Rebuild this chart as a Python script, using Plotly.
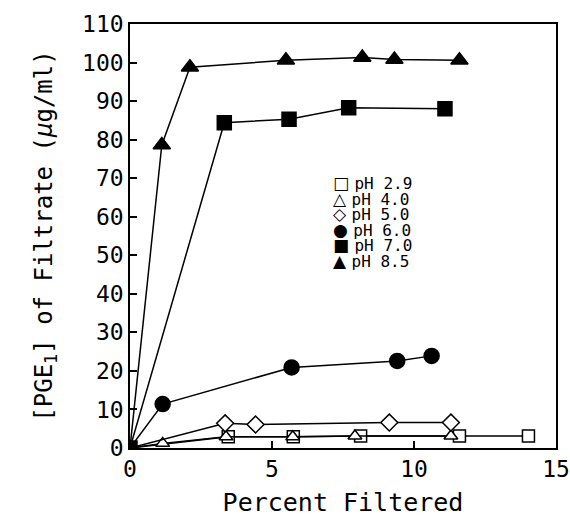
import plotly.graph_objects as go

# Data
labels = ["pH 2.9", "pH 4.0", "pH 5.0", "pH 6.0", "pH 7.0", "pH 8.5"]

x_ph29 = [0, 3.46, 5.75, 8.12, 11.6, 14.03]
y_ph29 = [0, 2.9, 2.9, 3.1, 3.1, 3.1]

x_ph40 = [0, 1.15, 3.38, 5.73, 7.92, 11.3]
y_ph40 = [0, 1.2, 2.9, 2.9, 3.1, 3.1]

x_ph50 = [0, 3.35, 4.42, 9.13, 11.3]
y_ph50 = [0, 6.4, 6.1, 6.6, 6.6]

x_ph60 = [0, 1.15, 5.69, 9.41, 10.62]
y_ph60 = [0, 11.4, 20.9, 22.6, 23.9]

x_ph70 = [0, 3.32, 5.6, 7.7, 11.09]
y_ph70 = [0, 84.4, 85.3, 88.3, 88.0]

x_ph85 = [0, 1.12, 2.11, 5.49, 8.18, 9.31, 11.6]
y_ph85 = [0, 78.6, 98.8, 100.6, 101.3, 100.8, 100.6]

x_ticks = [0, 5, 10, 15]
y_ticks = list(range(0, 111, 10))

FONT = "DejaVu Sans Mono"
BLACK = "rgb(0,0,0)"

series = [
    (x_ph29, y_ph29, "square", "white", 12, 0),
    (x_ph40, y_ph40, "triangle-up", "white", 12, 0),
    (x_ph50, y_ph50, "diamond", "white", 13, 0),
    (x_ph60, y_ph60, "circle", BLACK, 15, 0),
    (x_ph70, y_ph70, "square", BLACK, 14, 14),
    (x_ph85, y_ph85, "triangle-up", BLACK, 15, 0),
]
legend_glyphs = ["□", "△", "◇", "●", "■", "▲"]

W, H = 570, 526
L, T = 130, 24
PW, PH = 426, 424

fig = go.Figure()
for (xs, ys, sym, fill, size, origin_size), lab in zip(series, labels):
    sizes = [origin_size] + [size] * (len(xs) - 1)
    fig.add_trace(go.Scatter(
        x=xs, y=ys, mode="lines+markers", name=lab, showlegend=False,
        line=dict(color=BLACK, width=1.5),
        marker=dict(symbol=sym, size=sizes, color=fill, opacity=1,
                    line=dict(color=BLACK, width=1.5)),
        opacity=1, cliponaxis=True,
    ))

# legend built from annotations (glyph + label in one text per row)
row_h = 15.5 / PH
y0 = (448 - 183) / PH
for i, (g, lab) in enumerate(zip(legend_glyphs, labels)):
    fig.add_annotation(
        xref="paper", yref="paper", x=(332 - L) / PW, y=y0 - i * row_h,
        xanchor="left", yanchor="middle", showarrow=False, borderpad=0,
        text='<span style="font-family:DejaVu Sans;font-size:17px">' + g
             + '</span><span style="font-size:9px"> </span>' + lab,
        font=dict(family=FONT, size=16, color=BLACK),
    )

fig.update_layout(
    width=W, height=H,
    margin=dict(l=L, r=W - L - PW, t=T, b=H - T - PH, autoexpand=False),
    paper_bgcolor="white", plot_bgcolor="white",
    font=dict(family=FONT, color=BLACK),
    showlegend=False,
)
fig.update_xaxes(
    range=[0, 15], tickvals=x_ticks, ticks="inside", ticklen=7, tickwidth=1.5,
    tickcolor=BLACK, automargin=False,
    showline=True, linecolor=BLACK, linewidth=1.5, mirror=True,
    showgrid=False, zeroline=False,
    tickfont=dict(family=FONT, size=23),
    title=dict(text="Percent Filtered", font=dict(family=FONT, size=25), standoff=12),
)
fig.update_yaxes(
    range=[0, 110], tickvals=y_ticks, ticks="inside", ticklen=7, tickwidth=1.5,
    tickcolor=BLACK, automargin=False,
    showline=True, linecolor=BLACK, linewidth=1.5, mirror=True,
    showgrid=False, zeroline=False,
    tickfont=dict(family=FONT, size=23),
    title=dict(text="[PGE<sub>1</sub>] of Filtrate (<i>µ</i>g/ml)",
               font=dict(family=FONT, size=24), standoff=23),
)

fig.write_html(
    "out.html",
    config={"displayModeBar": False},
    post_script="document.body.style.margin='0';document.body.style.overflow='hidden';",
)
